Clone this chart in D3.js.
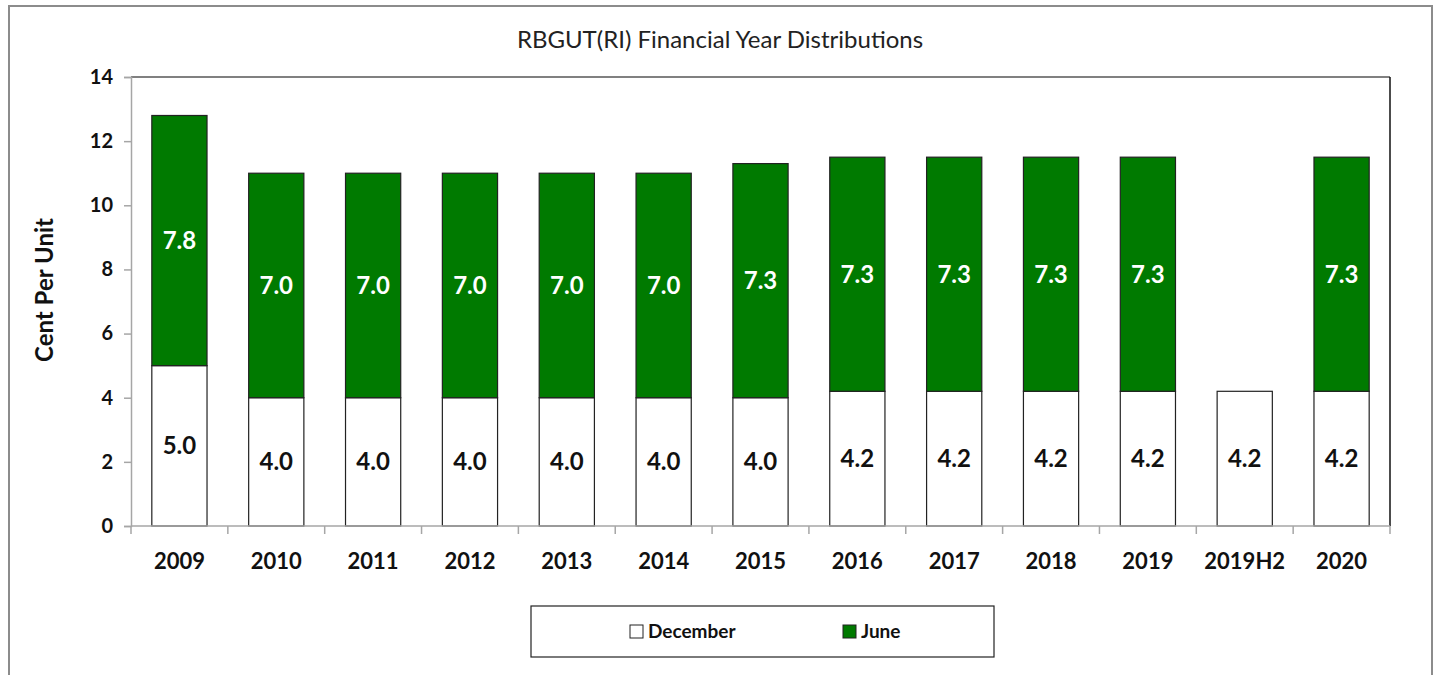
<!DOCTYPE html>
<html>
<head>
<meta charset="utf-8">
<script src="https://cdn.jsdelivr.net/npm/d3@7"></script>
<style>
  body { margin: 0; background: #fff; }
  text { font-family: Lato, "Open Sans", sans-serif; }
</style>
</head>
<body>
<div id="chart-container"></div>
<script>
// data
const years = ["2009", "2010", "2011", "2012", "2013", "2014", "2015", "2016", "2017", "2018", "2019", "2019H2", "2020"];
const december = [5.0, 4.0, 4.0, 4.0, 4.0, 4.0, 4.0, 4.2, 4.2, 4.2, 4.2, 4.2, 4.2];
const june = [7.8, 7.0, 7.0, 7.0, 7.0, 7.0, 7.3, 7.3, 7.3, 7.3, 7.3, 0, 7.3];
const yTicks = [0, 2, 4, 6, 8, 10, 12, 14];

const W = 1434, H = 675;
const margin = {top: 77, right: 44, bottom: 149, left: 131};
const width = W - margin.left - margin.right;
const height = H - margin.top - margin.bottom;

const svg = d3.select("#chart-container")
    .append("svg")
        .attr("width", W)
        .attr("height", H);

// outer frame
svg.append("rect")
    .attr("x", 9).attr("y", 6)
    .attr("width", 1423).attr("height", 680)
    .attr("fill", "#fff")
    .attr("stroke", "#8c8c8c")
    .attr("stroke-width", 2);

// title
svg.append("text")
    .attr("x", 720)
    .attr("y", 48)
    .attr("text-anchor", "middle")
    .style("font-size", "24px")
    .style("fill", "#222")
    .text("RBGUT(RI) Financial Year Distributions");

const g = svg.append("g")
    .attr("transform", `translate(${margin.left},${margin.top})`);

const x = d3.scaleBand().domain(years).range([0, width]).paddingInner(0.43).paddingOuter(0.215);
const y = d3.scaleLinear().domain([0, 14]).range([height, 0]);

// plot frame
g.append("line").attr("x1", 0).attr("x2", width).attr("y1", 0).attr("y2", 0)
    .attr("stroke", "#808080").attr("stroke-width", 2);
g.append("line").attr("x1", width).attr("x2", width).attr("y1", 0).attr("y2", height)
    .attr("stroke", "#111").attr("stroke-width", 1.5);

const rows = years.map((d, i) => ({year: d, dec: december[i], jun: june[i]}));

// december bars
g.selectAll(".dec")
    .data(rows)
    .join("rect")
    .attr("class", "dec")
    .attr("x", d => x(d.year))
    .attr("y", d => y(d.dec))
    .attr("width", x.bandwidth())
    .attr("height", d => y(0) - y(d.dec))
    .attr("fill", "#fff")
    .attr("stroke", "#222")
    .attr("stroke-width", 1.2);

// june bars
g.selectAll(".jun")
    .data(rows.filter(d => d.jun > 0))
    .join("rect")
    .attr("class", "jun")
    .attr("x", d => x(d.year))
    .attr("y", d => y(d.dec + d.jun))
    .attr("width", x.bandwidth())
    .attr("height", d => y(d.dec) - y(d.dec + d.jun))
    .attr("fill", "#007a00")
    .attr("stroke", "#222")
    .attr("stroke-width", 1.2);

// value labels
g.selectAll(".decLabel")
    .data(rows)
    .join("text")
    .attr("x", d => x(d.year) + x.bandwidth() / 2)
    .attr("y", d => y(d.dec / 2))
    .attr("dy", "0.35em")
    .attr("text-anchor", "middle")
    .style("font-size", "24px")
    .style("font-weight", "bold")
    .style("fill", "#111")
    .text(d => d.dec.toFixed(1));

g.selectAll(".junLabel")
    .data(rows.filter(d => d.jun > 0))
    .join("text")
    .attr("x", d => x(d.year) + x.bandwidth() / 2)
    .attr("y", d => y(d.dec + d.jun / 2))
    .attr("dy", "0.35em")
    .attr("text-anchor", "middle")
    .style("font-size", "24px")
    .style("font-weight", "bold")
    .style("fill", "#fff")
    .text(d => d.jun.toFixed(1));

// y axis
const yAxis = g.append("g")
    .call(d3.axisLeft(y).tickValues(yTicks).tickSize(7).tickPadding(11));
yAxis.select(".domain").attr("stroke", "#a6a6a6").attr("stroke-width", 1.5);
yAxis.selectAll(".tick line").attr("stroke", "#a6a6a6").attr("stroke-width", 1.5);
yAxis.selectAll("text")
    .style("font-size", "20px")
    .style("font-weight", "bold")
    .style("fill", "#111")
    .style("font-family", "Lato, 'Open Sans', sans-serif");

// x axis: ticks sit between categories
const xAxis = g.append("g")
    .attr("transform", `translate(0,${height})`);
xAxis.append("line")
    .attr("x1", 0).attr("x2", width)
    .attr("stroke", "#a6a6a6").attr("stroke-width", 1.5);
const step = x.step();
const bounds = d3.range(years.length + 1).map(i => i * step);
xAxis.selectAll(".sep")
    .data(bounds)
    .join("line")
    .attr("x1", d => d).attr("x2", d => d)
    .attr("y1", 0).attr("y2", 8)
    .attr("stroke", "#a6a6a6").attr("stroke-width", 1.5);
xAxis.selectAll(".xl")
    .data(years)
    .join("text")
    .attr("x", d => x(d) + x.bandwidth() / 2)
    .attr("y", 43)
    .attr("text-anchor", "middle")
    .style("font-size", "22px")
    .style("font-weight", "bold")
    .style("fill", "#111")
    .text(d => d);

// y axis title
svg.append("text")
    .attr("transform", "rotate(-90)")
    .attr("x", -290)
    .attr("y", 53)
    .attr("text-anchor", "middle")
    .style("font-size", "24px")
    .style("font-weight", "bold")
    .style("fill", "#111")
    .text("Cent Per Unit");

// legend
const legend = svg.append("g");
legend.append("rect")
    .attr("x", 531).attr("y", 606)
    .attr("width", 463).attr("height", 51)
    .attr("fill", "#fff")
    .attr("stroke", "#222")
    .attr("stroke-width", 1.2);
const legendItems = [
    {label: "December", fill: "#fff", x: 630},
    {label: "June", fill: "#007a00", x: 843}
];
legend.selectAll(".li")
    .data(legendItems)
    .join("rect")
    .attr("x", d => d.x).attr("y", 625)
    .attr("width", 13).attr("height", 13)
    .attr("fill", d => d.fill)
    .attr("stroke", "#222")
    .attr("stroke-width", 1);
legend.selectAll(".lt")
    .data(legendItems)
    .join("text")
    .attr("x", d => d.x + 18)
    .attr("y", 638)
    .style("font-size", "19px")
    .style("font-weight", "bold")
    .style("fill", "#111")
    .text(d => d.label);
</script>
</body>
</html>
